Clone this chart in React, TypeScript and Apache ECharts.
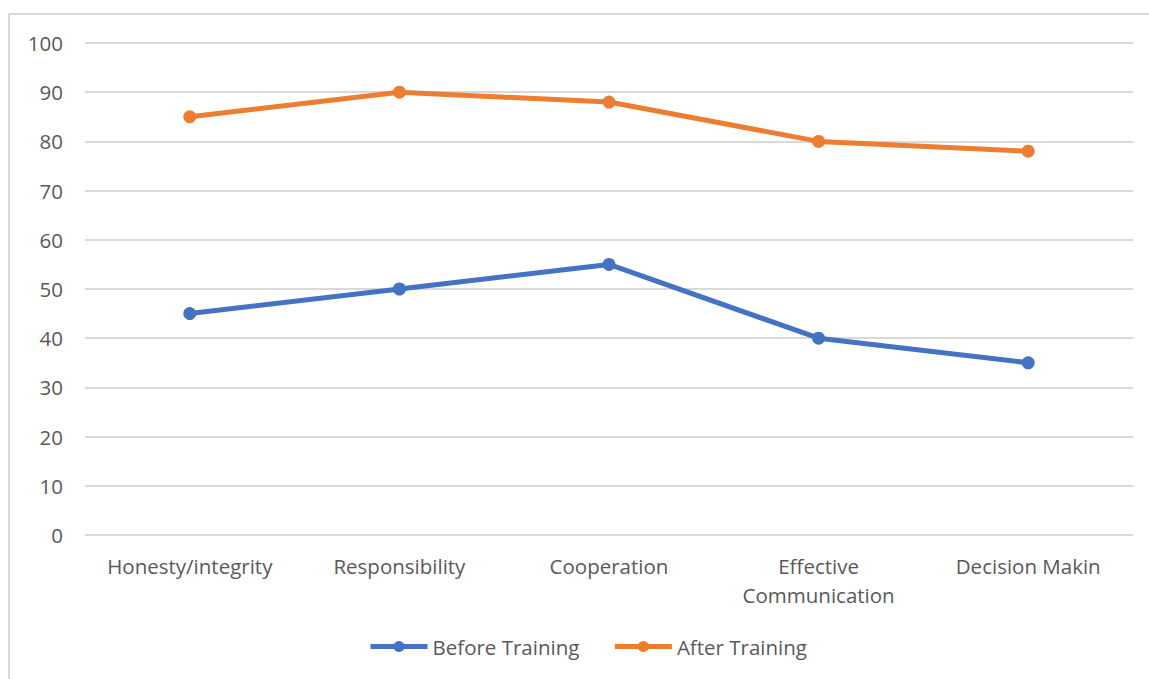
import React, { useEffect, useRef } from "react";
import * as echarts from "echarts";

const categories = ["Honesty/integrity", "Responsibility", "Cooperation", "Effective\nCommunication", "Decision Makin"];
const beforeTraining = [45, 50, 55, 40, 35];
const afterTraining = [85, 90, 88, 80, 78];
const yTicks = { min: 0, max: 100, interval: 10 };

export default function App() {
  const ref = useRef<HTMLDivElement>(null);
  useEffect(() => {
    if (!ref.current) return;
    const chart = echarts.init(ref.current, null, { renderer: "svg" });
    const font = "'Open Sans', 'Noto Sans', sans-serif";
    chart.setOption({
      animation: false,
      backgroundColor: "#ffffff",
      textStyle: { fontFamily: font },
      graphic: [
        {
          type: "rect",
          shape: { x: 9, y: 14, width: 1200, height: 720 },
          style: { fill: "none", stroke: "#d9d9d9", lineWidth: 2 },
          silent: true,
        },
      ],
      grid: { left: 85, right: 16, top: 43, bottom: 144 },
      legend: {
        bottom: 17,
        left: 363,
        itemWidth: 57,
        itemHeight: 14,
        itemGap: 33,
        lineStyle: { width: 5 },
        textStyle: { color: "#595959", fontSize: 20.5, fontFamily: font },
        data: ["Before Training", "After Training"],
      },
      xAxis: {
        type: "category",
        data: categories,
        boundaryGap: true,
        axisLine: { show: false },
        axisTick: { show: false },
        axisLabel: { color: "#595959", fontSize: 20.5, margin: 16, lineHeight: 29, interval: 0, fontFamily: font },
      },
      yAxis: {
        type: "value",
        min: yTicks.min,
        max: yTicks.max,
        interval: yTicks.interval,
        axisLine: { show: false },
        axisTick: { show: false },
        axisLabel: { color: "#595959", fontSize: 20.5, margin: 22, fontFamily: font },
        splitLine: { lineStyle: { color: "#d9d9d9", width: 2 } },
      },
      series: [
        {
          name: "Before Training",
          type: "line",
          data: beforeTraining,
          symbol: "circle",
          symbolSize: 13,
          color: "#4472C4",
          lineStyle: { width: 5, color: "#4472C4" },
          itemStyle: { color: "#4472C4" },
        },
        {
          name: "After Training",
          type: "line",
          data: afterTraining,
          symbol: "circle",
          symbolSize: 13,
          color: "#ED7D31",
          lineStyle: { width: 5, color: "#ED7D31" },
          itemStyle: { color: "#ED7D31" },
        },
      ],
    });
    return () => chart.dispose();
  }, []);
  return (
    <div
      ref={ref}
      style={{ position: "fixed", left: 0, top: 0, width: 1149, height: 679 }}
    />
  );
}
